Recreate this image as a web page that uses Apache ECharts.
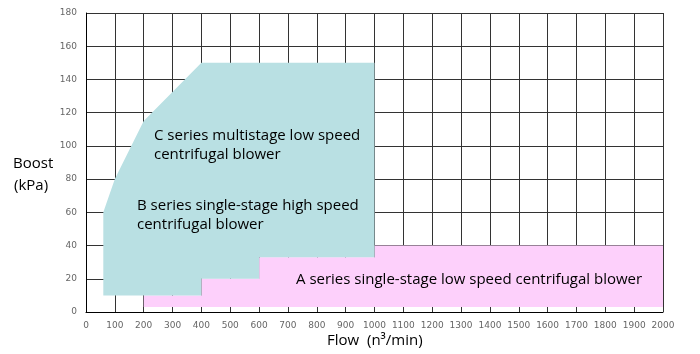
<!DOCTYPE html>
<html>
<head>
<meta charset="utf-8">
<script src="https://cdn.jsdelivr.net/npm/echarts@6/dist/echarts.min.js"></script>
<style>
  html, body { margin: 0; padding: 0; background: #fff; }
  #chart { width: 700px; height: 354px; }
</style>
</head>
<body>
<div id="chart"></div>
<script>
// area outlines in (flow, boost) units
const aFlow = [200, 2000, 2000, 1000, 1000, 600, 600, 400, 400, 200];
const aBoost = [3, 3, 40, 40, 33, 33, 20, 20, 10, 10];
const bcFlow = [60, 400, 400, 600, 600, 1000, 1000, 400, 200, 100, 60];
const bcBoost = [10, 10, 20, 20, 33, 33, 150, 150, 115, 80, 60];

const xTicks = [0, 2000, 100];
const yTicks = [0, 180, 20];

const chart = echarts.init(document.getElementById('chart'));

const polygonSeries = (xs, ys, color) => ({
  type: 'custom',
  coordinateSystem: 'cartesian2d',
  silent: true,
  data: [0],
  renderItem: (params, api) => ({
    type: 'polygon',
    shape: { points: xs.map((x, i) => api.coord([x, ys[i]])) },
    style: { fill: color }
  })
});

const labelFont = '"Open Sans", "Noto Sans", sans-serif';
const txt = (x, y, text) => ({
  type: 'text', left: x, top: y, z: 10,
  style: { text, font: `15px ${labelFont}`, fill: '#000', lineHeight: 19 }
});

const tickLabel = { color: '#666', fontSize: 9, fontFamily: 'DejaVu Sans', margin: 9, formatter: v => String(v) };

chart.setOption({
  animation: false,
  grid: { left: 86, right: 37, top: 13, bottom: 42 },
  xAxis: {
    type: 'value',
    min: xTicks[0], max: xTicks[1], interval: xTicks[2],
    axisLine: { lineStyle: { color: '#000', width: 1 } },
    axisTick: { show: false },
    axisLabel: tickLabel,
    splitLine: { lineStyle: { color: '#333', width: 1 } }
  },
  yAxis: {
    type: 'value',
    min: yTicks[0], max: yTicks[1], interval: yTicks[2],
    axisLine: { show: true, lineStyle: { color: '#000', width: 1 } },
    axisTick: { show: false },
    axisLabel: tickLabel,
    splitLine: { lineStyle: { color: '#333', width: 1 } }
  },
  series: [
    polygonSeries(aFlow, aBoost, '#fdd0fb'),
    polygonSeries(bcFlow, bcBoost, '#b9e0e3')
  ],
  graphic: [
    txt(154, 126, 'C series multistage low speed\ncentrifugal blower'),
    txt(137, 196, 'B series single-stage high speed\ncentrifugal blower'),
    txt(296, 270, 'A series single-stage low speed centrifugal blower'),
    { type: 'text', left: 13, top: 156, z: 10,
      style: { text: 'Boost', font: `15px ${labelFont}`, fill: '#000' } },
    { type: 'text', left: 14, top: 178, z: 10,
      style: { text: '(kPa)', font: `15px ${labelFont}`, fill: '#000' } },
    { type: 'text', left: 327, top: 333, z: 10,
      style: { text: 'Flow  (n³/min)', font: `15px ${labelFont}`, fill: '#000' } }
  ]
});
</script>
</body>
</html>
